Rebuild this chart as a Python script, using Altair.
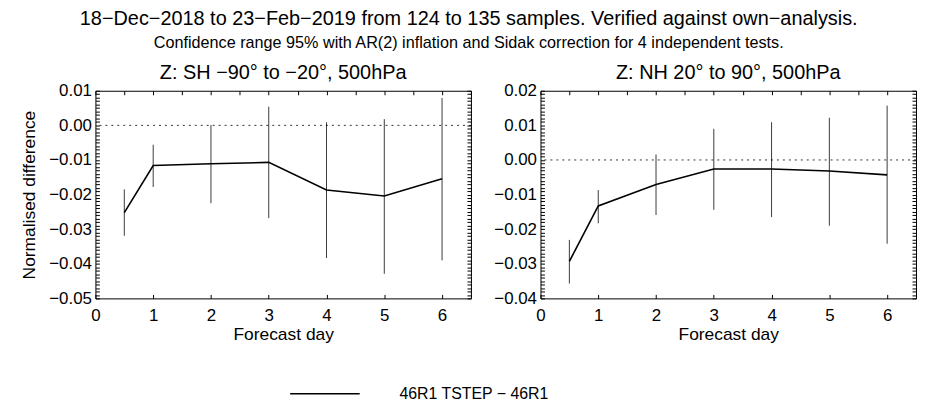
import altair as alt
import pandas as pd

# ---- data ----
days = [0.5, 1, 2, 3, 4, 5, 6]

sh_mean = [-0.0252, -0.0116, -0.0111, -0.0107, -0.0187, -0.0204, -0.0154]
sh_low = [-0.0319, -0.0178, -0.0225, -0.0268, -0.0383, -0.0429, -0.0390]
sh_high = [-0.0185, -0.0056, 0.0001, 0.0054, 0.0009, 0.0018, 0.0079]

nh_mean = [-0.0293, -0.0133, -0.0071, -0.0026, -0.0026, -0.0032, -0.0043]
nh_low = [-0.0357, -0.0183, -0.0159, -0.0144, -0.0165, -0.0190, -0.0242]
nh_high = [-0.0231, -0.0087, 0.0016, 0.0090, 0.0109, 0.0122, 0.0157]

series_name = "46R1 TSTEP − 46R1"
sh_title = "Z: SH −90° to −20°, 500hPa"
nh_title = "Z: NH 20° to 90°, 500hPa"
main_title = "18−Dec−2018 to 23−Feb−2019 from 124 to 135 samples. Verified against own−analysis."
sub_title = "Confidence range 95% with AR(2) inflation and Sidak correction for 4 independent tests."

# tick positions (labelled ticks are the integer days / every 0.01)
x_ticks = [0, 0.5, 1, 1.5, 2, 2.5, 3, 3.5, 4, 4.5, 5, 5.5, 6, 6.5]
sh_y_range = [-50, 10]   # in thousandths
nh_y_range = [-40, 20]

W, H = 378, 209
XMAX = 6.5
FONT = "Liberation Sans"
TICK = 4

X_LABEL_EXPR = "datum.value % 1 == 0 ? datum.label : ''"
Y_LABEL_EXPR = "abs(datum.value * 100 - round(datum.value * 100)) < 0.0001 ? datum.label : ''"


def panel(mean, low, high, yrange, title, ytitle):
    df = pd.DataFrame({"day": days, "mean": mean, "low": low, "high": high,
                       "series": [series_name] * len(days)})
    y_ticks = [i / 1000 for i in range(yrange[0], yrange[1] + 1)]
    ydomain = [yrange[0] / 1000, yrange[1] / 1000]
    xs = alt.Scale(domain=[0, XMAX], nice=False, zero=False)
    ys = alt.Scale(domain=ydomain, nice=False, zero=False)

    common = dict(tickSize=TICK, offset=-TICK, grid=False, domain=False,
                  labelOverlap=False, labelFlush=False, tickColor="black",
                  tickWidth=1)
    y_left = dict(orient="left", values=y_ticks, format=".2f", labelExpr=Y_LABEL_EXPR,
                  labelPadding=4, **common)
    if ytitle:
        y_left["title"] = ytitle
        y_left["titlePadding"] = 10
    else:
        y_left["title"] = None
    x_bottom = alt.Axis(orient="bottom", values=x_ticks, format="d",
                        labelExpr=X_LABEL_EXPR, labelPadding=9,
                        title="Forecast day", titlePadding=2, **common)
    y_right = alt.Axis(orient="right", values=y_ticks, labels=False, title=None, **common)
    x_top = alt.Axis(orient="top", values=x_ticks, labels=False, title=None, **common)

    # error bars (carry the left / bottom axes)
    bars = alt.Chart(df).mark_rule(color="#3a3a3a", strokeWidth=1).encode(
        x=alt.X("day:Q", scale=xs, axis=x_bottom),
        y=alt.Y("low:Q", scale=ys, axis=alt.Axis(**y_left)),
        y2="high:Q",
    )
    # mean line (carries the right / top axes)
    line = alt.Chart(df).mark_line(strokeWidth=1.6).encode(
        x=alt.X("day:Q", scale=xs, axis=x_top),
        y=alt.Y("mean:Q", scale=ys, axis=y_right),
        color=alt.Color(
            "series:N",
            scale=alt.Scale(range=["black"]),
            legend=alt.Legend(
                title=None, orient="none", legendX=195, legendY=269,
                symbolType="stroke", symbolSize=4900, symbolStrokeWidth=1.5,
                labelFontSize=16, labelFont=FONT, labelColor="black",
                labelOffset=39,
            ),
        ),
    )
    # zero line
    zero = alt.Chart(pd.DataFrame({"z": [0.0]})).mark_rule(
        color="black", strokeWidth=0.8, strokeDash=[2, 4]
    ).encode(y=alt.Y("z:Q", scale=ys, axis=None))

    return alt.layer(bars, line, zero).resolve_axis(
        x="independent", y="independent"
    ).properties(
        width=W, height=H,
        title=alt.TitleParams(title, fontSize=20, fontWeight="normal", font=FONT,
                              color="black", offset=-1),
    )


left = panel(sh_mean, sh_low, sh_high, sh_y_range, sh_title, "Normalised difference")
right = panel(nh_mean, nh_low, nh_high, nh_y_range, nh_title, None)

chart = alt.hconcat(left, right, spacing=21).properties(
    title=alt.TitleParams(
        main_title, subtitle=sub_title, fontSize=20, subtitleFontSize=16.3,
        fontWeight="normal", font=FONT, subtitleFont=FONT,
        color="black", subtitleColor="black", anchor="middle", subtitlePadding=6,
        offset=11,
    ),
    padding={"left": 12, "top": 0, "right": 0, "bottom": 0},
).configure_view(stroke="black", strokeWidth=1).configure_axis(
    labelFont=FONT, titleFont=FONT, labelFontSize=17, titleFontSize=17.5,
    labelColor="black", titleColor="black", titleFontWeight="normal",
    labelOverlap=False,
)

chart.save("out.html", embed_options={"renderer": "svg", "actions": False})
